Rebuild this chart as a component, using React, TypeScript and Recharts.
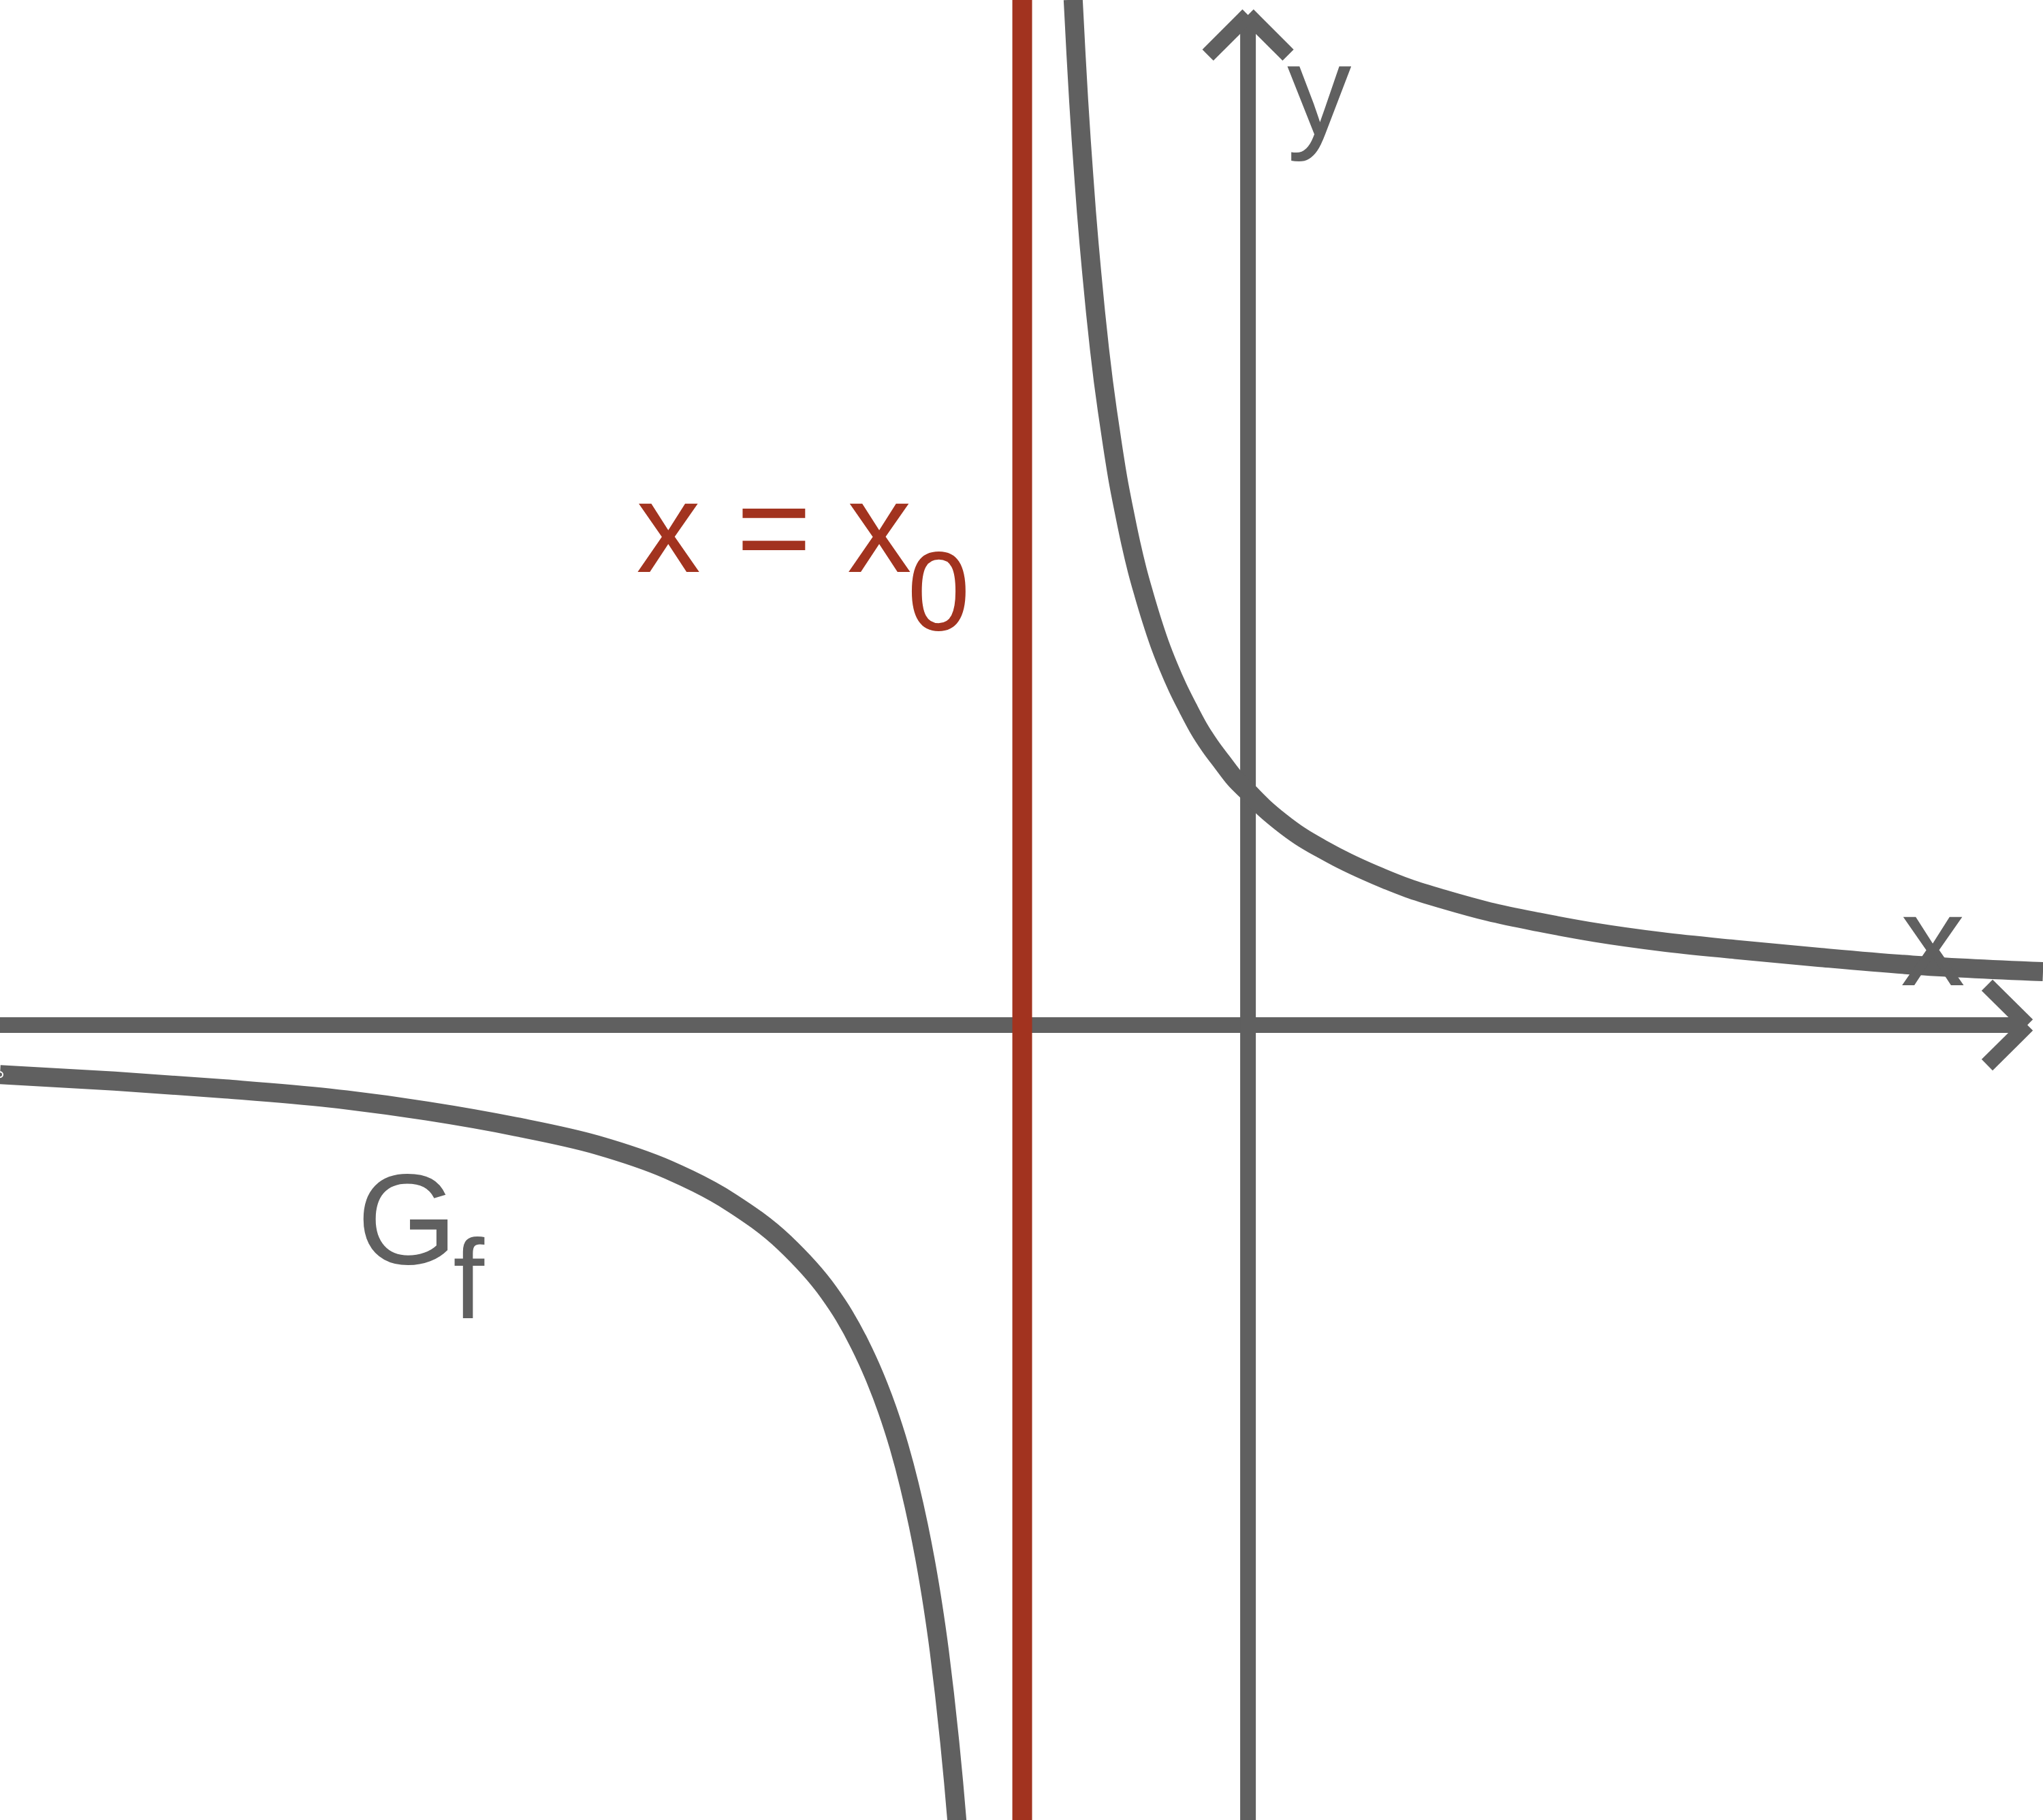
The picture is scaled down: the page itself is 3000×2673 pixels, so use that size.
import React from 'react';
import { LineChart, Line, XAxis, YAxis, ReferenceLine, ReferenceDot } from 'recharts';

// graph of f near its vertical asymptote x = x0
const upperBranchX = [-1.342, -1.32, -1.3, -1.28, -1.26, -1.24, -1.22, -1.2, -1.17, -1.14, -1.11, -1.08, -1.04, -1.0, -0.95, -0.9, -0.85, -0.8, -0.74, -0.68, -0.61, -0.54, -0.46, -0.38, -0.29, -0.2, -0.1, 0, 0.12, 0.25, 0.4, 0.57, 0.76, 0.98, 1.23, 1.52, 1.85, 2.23, 2.67, 3.17, 3.74, 4.38, 5.1, 6.102];
const upperBranchY = [7.87, 7.45, 7.1, 6.79, 6.51, 6.24, 6.0, 5.78, 5.47, 5.19, 4.94, 4.72, 4.45, 4.2, 3.94, 3.7, 3.49, 3.31, 3.11, 2.93, 2.75, 2.59, 2.43, 2.28, 2.14, 2.02, 1.89, 1.79, 1.67, 1.56, 1.45, 1.35, 1.25, 1.15, 1.05, 0.96, 0.87, 0.79, 0.71, 0.64, 0.58, 0.52, 0.46, 0.41];

const lowerBranchX = [-9.579, -8.7, -7.85, -7.05, -6.3, -5.62, -5.0, -4.45, -3.97, -3.56, -3.22, -3.1, -2.98, -2.87, -2.77, -2.68, -2.6, -2.53, -2.47, -2.42, -2.37, -2.33, -2.29, -2.26, -2.233];
const lowerBranchY = [-0.38, -0.43, -0.49, -0.56, -0.66, -0.78, -0.92, -1.11, -1.36, -1.67, -2.05, -2.23, -2.45, -2.69, -2.95, -3.23, -3.53, -3.84, -4.15, -4.45, -4.8, -5.13, -5.5, -5.81, -6.12];

const asymptoteX = -1.733;

const X_DOMAIN = [-9.579, 6.102];
const Y_DOMAIN = [-6.102, 7.868];

const upperData = upperBranchX.map((x, i) => ({ x, y: upperBranchY[i] }));
const lowerData = lowerBranchX.map((x, i) => ({ x, y: lowerBranchY[i] }));

const GRAY = '#606060';
const RED = '#A2331F';
const FONT = '"Liberation Sans", Arial, sans-serif';

function TextMark(props: any) {
  const { viewBox, main, sub, color, subDy, subDx } = props;
  const x = viewBox.x + viewBox.width / 2;
  const y = viewBox.y + viewBox.height / 2;
  return (
    <text x={x} y={y} fill={color} fontFamily={FONT} fontSize={189}>
      {main}
      {sub && (
        <tspan fontSize={165} dx={subDx} dy={subDy}>
          {sub}
        </tspan>
      )}
    </text>
  );
}

export default function App() {
  return (
    <div style={{ position: 'absolute', left: 0, top: 0, width: 3000, height: 2673, background: '#fff' }}>
      <LineChart width={3000} height={2673} margin={{ top: 0, right: 0, bottom: 0, left: 0 }}>
        <XAxis type="number" dataKey="x" domain={X_DOMAIN} allowDataOverflow hide />
        <YAxis type="number" dataKey="y" domain={Y_DOMAIN} allowDataOverflow hide />

        {/* axes */}
        <ReferenceLine segment={[{ x: X_DOMAIN[0], y: 0 }, { x: 5.982, y: 0 }]} stroke={GRAY} strokeWidth={23} />
        <ReferenceLine segment={[{ x: 0, y: Y_DOMAIN[0] }, { x: 0, y: 7.753 }]} stroke={GRAY} strokeWidth={23} />
        {/* arrow heads */}
        <ReferenceLine segment={[{ x: 0, y: 7.753 }, { x: -0.308, y: 7.445 }]} stroke={GRAY} strokeWidth={23} />
        <ReferenceLine segment={[{ x: 0, y: 7.753 }, { x: 0.308, y: 7.445 }]} stroke={GRAY} strokeWidth={23} />
        <ReferenceLine segment={[{ x: 5.982, y: 0 }, { x: 5.673, y: 0.306 }]} stroke={GRAY} strokeWidth={23} />
        <ReferenceLine segment={[{ x: 5.982, y: 0 }, { x: 5.673, y: -0.306 }]} stroke={GRAY} strokeWidth={23} />

        {/* vertical asymptote */}
        <ReferenceLine x={asymptoteX} stroke={RED} strokeWidth={29} />

        <Line data={upperData} dataKey="y" type="monotone" stroke={GRAY} strokeWidth={28} dot={false} isAnimationActive={false} />
        <Line data={lowerData} dataKey="y" type="monotone" stroke={GRAY} strokeWidth={28} dot={false} isAnimationActive={false} />

        {/* labels */}
        <ReferenceDot x={0.3005} y={6.834} r={0} fill="none" stroke="none"
          label={(p: any) => <TextMark {...p} main="y" color={GRAY} />} />
        <ReferenceDot x={5.0097} y={0.3058} r={0} fill="none" stroke="none"
          label={(p: any) => <TextMark {...p} main="x" color={GRAY} />} />
        <ReferenceDot x={-4.696} y={3.478} r={0} fill="none" stroke="none"
          label={(p: any) => <TextMark {...p} main="x = x" sub="0" subDx={-6} subDy={85} color={RED} />} />
        <ReferenceDot x={-6.839} y={-1.832} r={0} fill="none" stroke="none"
          label={(p: any) => <TextMark {...p} main="G" sub="f" subDx={-6} subDy={80} color={GRAY} />} />
      </LineChart>
    </div>
  );
}
